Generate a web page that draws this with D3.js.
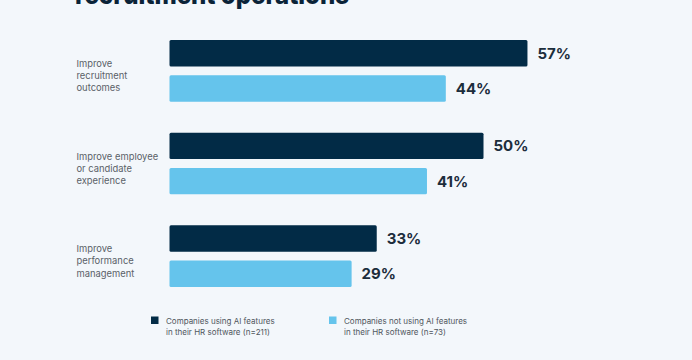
<!DOCTYPE html>
<html>
<head>
<meta charset="utf-8">
<script src="https://cdn.jsdelivr.net/npm/d3@7"></script>
<style>
  html, body { margin: 0; padding: 0; background: #f3f7fb; }
  svg { display: block; }
</style>
</head>
<body>
<div id="chart"></div>
<script>
const categories = [
  ["Improve", "recruitment", "outcomes"],
  ["Improve employee", "or candidate", "experience"],
  ["Improve", "performance", "management"]
];
const seriesNames = [
  ["Companies using AI features", "in their HR software (n=211)"],
  ["Companies not using AI features", "in their HR software (n=73)"]
];
const usingAI = [57, 50, 33];
const notUsingAI = [44, 41, 29];
const colors = ["#022b46", "#65c4ec"];
const title = "recruitment operations";

const W = 692, H = 360;
const svg = d3.select("#chart").append("svg").attr("width", W).attr("height", H);
svg.append("rect").attr("width", W).attr("height", H).attr("fill", "#f3f7fb");

// Title (cut off at top, as in the reference)
svg.append("text").attr("x", 75).attr("y", 4)
  .attr("font-family", "Inter, 'DejaVu Sans', sans-serif")
  .attr("font-weight", 800).attr("font-size", 26)
  .attr("textLength", 274).attr("lengthAdjust", "spacingAndGlyphs")
  .attr("fill", "#0a2338").text(title);

const x = d3.scaleLinear().domain([0, 100]).range([169.5, 169.5 + 628]);
const y0 = d3.scaleBand().domain(d3.range(categories.length)).range([40, 318]).paddingInner(0.0).paddingOuter(0);
const y1 = d3.scaleBand().domain([0, 1]).range([0, 61.7]).paddingInner(0.25);

const series = [usingAI, notUsingAI];
const g = svg.append("g");
categories.forEach((cat, i) => {
  const gy = y0(i);
  series.forEach((vals, s) => {
    const by = gy + y1(s);
    g.append("rect")
      .attr("x", x(0)).attr("y", by)
      .attr("width", x(vals[i]) - x(0)).attr("height", y1.bandwidth())
      .attr("rx", 1.5).attr("fill", colors[s]);
    g.append("text")
      .attr("x", x(vals[i]) + 10).attr("y", by + y1.bandwidth() / 2)
      .attr("dy", "0.36em")
      .attr("font-family", "Inter, 'DejaVu Sans', sans-serif")
      .attr("font-weight", 700).attr("font-size", 15)
      .attr("fill", "#1c2d3c").text(vals[i] + "%");
  });
  const cy = gy + 61.7 / 2 + 5;
  const t = g.append("text")
    .attr("font-family", "Inter, 'DejaVu Sans', sans-serif")
    .attr("font-size", 9.4).attr("fill", "#5a6168");
  cat.forEach((line, k) => {
    t.append("tspan").attr("x", 76.5).attr("y", cy + (k - 1) * 12.2).attr("dy", "0.35em").text(line);
  });
});

// Legend
const legendX = [151, 329];
seriesNames.forEach((lines, s) => {
  svg.append("rect").attr("x", legendX[s]).attr("y", 316.5).attr("width", 7.5).attr("height", 7.5).attr("fill", colors[s]);
  const t = svg.append("text")
    .attr("font-family", "Inter, 'DejaVu Sans', sans-serif")
    .attr("font-size", 8).attr("fill", "#4f565d");
  lines.forEach((line, k) => {
    t.append("tspan").attr("x", legendX[s] + 15).attr("y", 321.5 + k * 11).attr("dy", "0.35em").text(line);
  });
});
</script>
</body>
</html>
